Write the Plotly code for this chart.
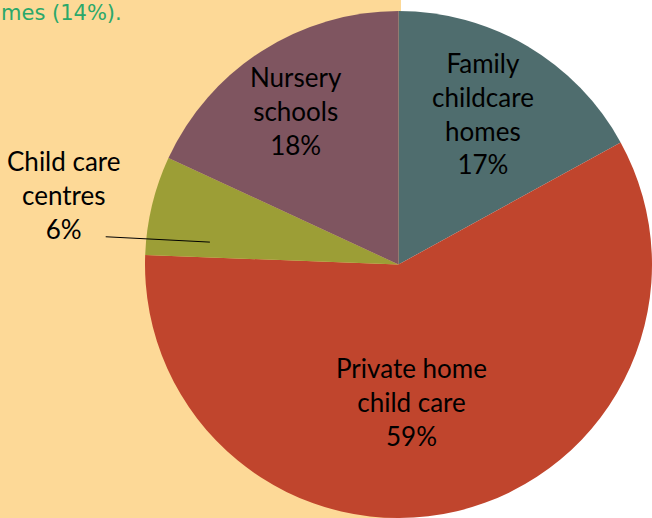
import math
import plotly.graph_objects as go

# ---- data ----
labels = ["Family childcare homes", "Private home child care", "Child care centres", "Nursery schools"]
label_text = ["Family<br>childcare<br>homes", "Private home<br>child care", "Child care<br>centres", "Nursery<br>schools"]
values = [17.0, 58.6, 6.3, 18.1]
colors = ["#4F6D6E", "#C0452D", "#9C9E36", "#7F5560"]
top_text = "mes (14%)."

# ---- geometry / style ----
W, H = 652, 518
cx, cy, R = 399, 265, 254  # pie centre and radius in pixels (from top-left)

def polar(theta_deg, rf):
    t = math.radians(theta_deg)
    px = cx + rf * R * math.sin(t)
    py = cy - rf * R * math.cos(t)
    return px / W, 1 - py / H

total = sum(values)
mids, acc = [], 0.0
for v in values:
    mids.append((acc + v / 2) / total * 360)
    acc += v

# per-label angular offset (deg) and radius fraction
label_offsets = [(-1.6, 0.68), (8.3, 0.54), (-1.7, 1.35), (-1.3, 0.73)]

fig = go.Figure(go.Pie(
    labels=labels,
    values=values,
    sort=False,
    direction="clockwise",
    rotation=0,
    marker=dict(colors=colors, line=dict(width=0)),
    textinfo="none",
    hoverinfo="label+percent",
    showlegend=False,
    domain=dict(x=[(cx - R) / W, min(1.0, (cx + R) / W)],
                y=[max(0.0, (H - cy - R) / H), (H - cy + R) / H]),
))

annotations = []
for i, (lt, v) in enumerate(zip(label_text, values)):
    dth, rf = label_offsets[i]
    x, y = polar(mids[i] + dth, rf)
    annotations.append(dict(
        x=x, y=y, xref="paper", yref="paper",
        text=f"{lt}<br>{round(v / total * 100)}%",
        showarrow=False, xanchor="center", yanchor="middle",
        font=dict(family="Lato, sans-serif", size=26, color="#000000"),
    ))

annotations.append(dict(
    x=0, y=1, xref="paper", yref="paper", xanchor="left", yanchor="top",
    text=top_text, showarrow=False, yshift=0, borderpad=0,
    font=dict(family="DejaVu Sans, sans-serif", size=21, color="#2BA86A"),
))

# leader line for the small slice
x0, y0 = polar(mids[2] - 8.0, 1.16)
x1, y1 = polar(mids[2] - 6.6, 0.75)

fig.update_layout(
    width=W, height=H,
    margin=dict(l=0, r=0, t=0, b=0),
    paper_bgcolor="#FFFFFF",
    plot_bgcolor="#FFFFFF",
    annotations=annotations,
    shapes=[
        dict(type="rect", xref="paper", yref="paper", x0=0, x1=401 / W, y0=0, y1=1,
             fillcolor="#FDD997", line=dict(width=0), layer="below"),
        dict(type="line", xref="paper", yref="paper", x0=x0, y0=y0, x1=x1, y1=y1,
             line=dict(color="#000000", width=1), layer="above"),
    ],
)

fig.write_html("out.html", config={"displayModeBar": False},
               post_script="document.body.style.margin='0px';document.body.style.overflow='hidden';")
